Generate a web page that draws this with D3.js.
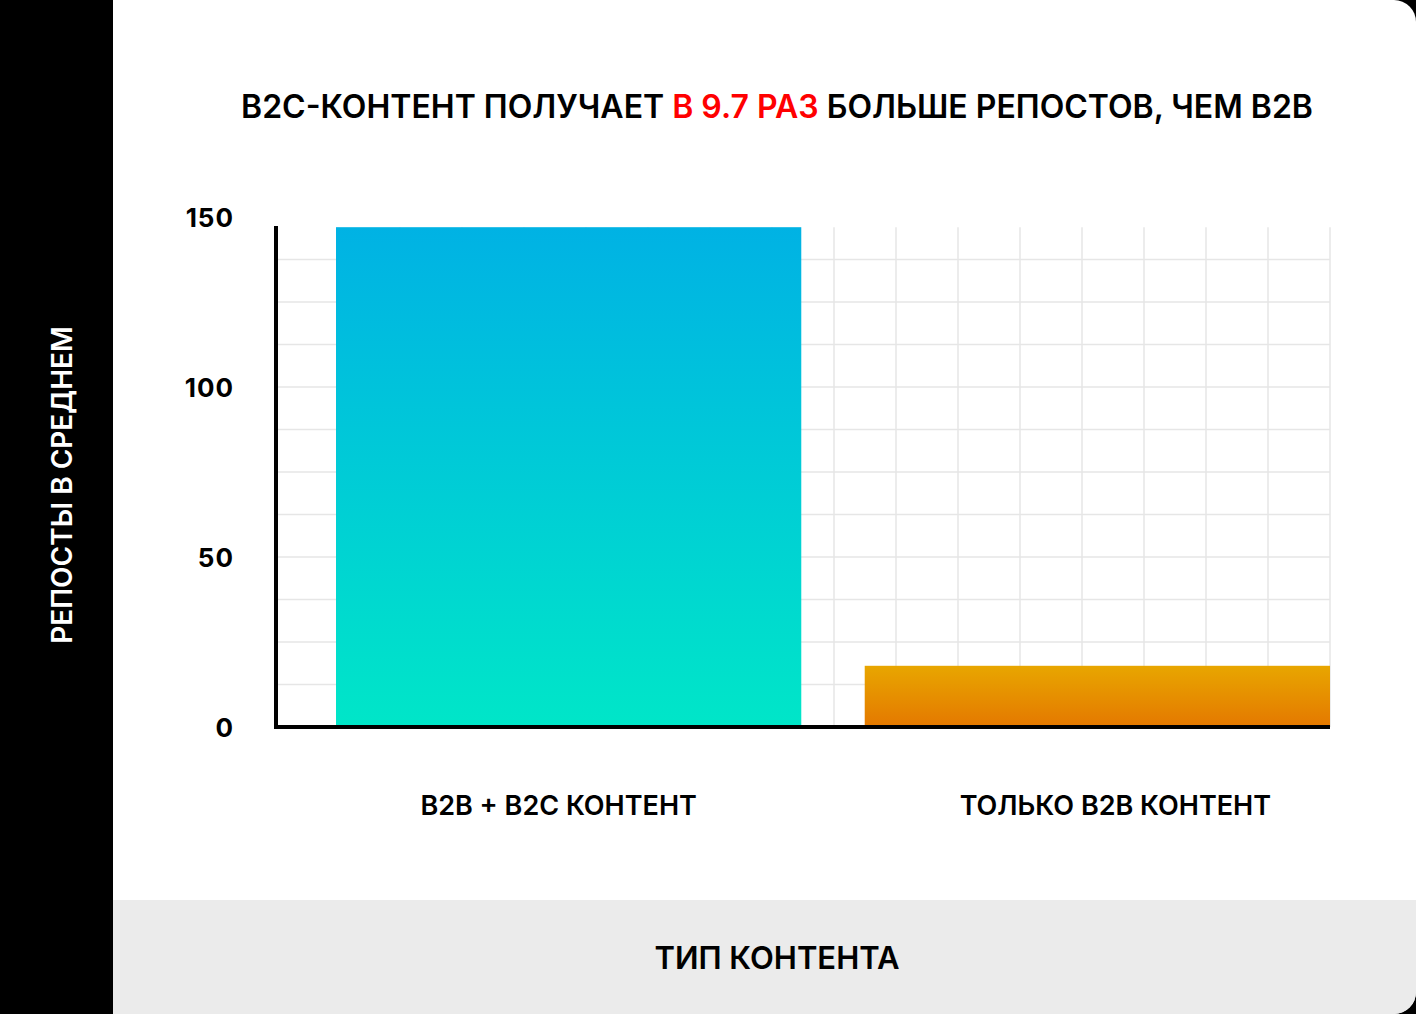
<!DOCTYPE html>
<html><head><meta charset="utf-8">
<script src="https://cdn.jsdelivr.net/npm/d3@7/dist/d3.min.js"></script>
<style>body{margin:0;background:#fff}svg{display:block;font-family:Inter,"Open Sans",sans-serif}</style>
</head><body><svg id="c" width="1416" height="1014"></svg>
<script>
const categories = ["B2B + B2C КОНТЕНТ", "ТОЛЬКО B2B КОНТЕНТ"];
const values = [147, 18];
const yTicks = [0, 50, 100, 150];
const gridStep = 12.5;

const svg = d3.select("#c");
const defs = svg.append("defs");
const g1 = defs.append("linearGradient").attr("id","g1").attr("x1",0).attr("y1",0).attr("x2",0).attr("y2",1);
g1.append("stop").attr("offset",0).attr("stop-color","#00b2e4");
g1.append("stop").attr("offset",1).attr("stop-color","#00e6c8");
const g2 = defs.append("linearGradient").attr("id","g2").attr("x1",0).attr("y1",0).attr("x2",0).attr("y2",1);
g2.append("stop").attr("offset",0).attr("stop-color","#e8a600");
g2.append("stop").attr("offset",1).attr("stop-color","#e47800");

svg.append("rect").attr("x",0).attr("y",0).attr("width",1416).attr("height",1014).attr("fill","#000");
const clip = defs.append("clipPath").attr("id","card");
clip.append("rect").attr("x",-30).attr("y",0).attr("width",1446).attr("height",1014).attr("rx",22);
const card = svg.append("g").attr("clip-path","url(#card)");
card.append("rect").attr("x",113).attr("y",0).attr("width",1303).attr("height",1014).attr("fill","#fff");
card.append("rect").attr("x",113).attr("y",900).attr("width",1303).attr("height",114).attr("fill","#ebebeb");
card.append("rect").attr("x",0).attr("y",0).attr("width",113).attr("height",1014).attr("fill","#000");

const y = d3.scaleLinear().domain([0,150]).range([727,217]);
const x = d3.scaleBand().domain(categories).range([336,1330]).paddingInner(0.12).paddingOuter(0);
const xl = 276, xr = 1330;

// grid
const hg = d3.range(gridStep, 147.1, gridStep);
svg.append("g").selectAll("line").data(hg).join("line")
  .attr("x1",xl).attr("x2",xr).attr("y1",d=>y(d)).attr("y2",d=>y(d))
  .attr("stroke","#e6e6e6").attr("stroke-width",1.5);
svg.append("g").selectAll("line").data(d3.range(1,18)).join("line")
  .attr("x1",d=>xl+d*62).attr("x2",d=>xl+d*62).attr("y1",y(147)).attr("y2",y(0))
  .attr("stroke","#e6e6e6").attr("stroke-width",1.5);

svg.append("g").selectAll("rect").data(values).join("rect")
  .attr("x",(d,i)=>x(categories[i])).attr("width",x.bandwidth())
  .attr("y",d=>y(d)).attr("height",d=>y(0)-y(d))
  .attr("fill",(d,i)=>`url(#g${i+1})`);

// axes
svg.append("line").attr("x1",xl).attr("x2",xl).attr("y1",226).attr("y2",729).attr("stroke","#000").attr("stroke-width",4);
svg.append("line").attr("x1",xl-2).attr("x2",xr).attr("y1",727).attr("y2",727).attr("stroke","#000").attr("stroke-width",4);

svg.append("g").selectAll("text").data(yTicks).join("text")
  .attr("x",234).attr("y",d=>y(d)+3).attr("text-anchor","end").attr("dominant-baseline","middle")
  .attr("font-size",26).attr("font-weight",700).attr("letter-spacing",1).text(d=>d);

svg.append("g").selectAll("text").data(categories).join("text")
  .attr("x",d=>x(d)+x.bandwidth()/2 - (d===categories[0]?10:-18)).attr("y",815).attr("text-anchor","middle")
  .attr("font-size",27).attr("font-weight",600).text(d=>d);

const t = svg.append("text").attr("x",777).attr("y",118).attr("text-anchor","middle")
  .attr("font-size",32).attr("font-weight",600);
t.append("tspan").text("B2C-КОНТЕНТ ПОЛУЧАЕТ ");
t.append("tspan").attr("fill","#ff0000").text("В 9.7 РАЗ");
t.append("tspan").text(" БОЛЬШЕ РЕПОСТОВ, ЧЕМ B2B");

svg.append("text").attr("transform","translate(72,485) rotate(-90)").attr("text-anchor","middle")
  .attr("fill","#fff").attr("font-size",28).attr("font-weight",600).text("РЕПОСТЫ В СРЕДНЕМ");
svg.append("text").attr("x",777).attr("y",969).attr("text-anchor","middle")
  .attr("font-size",31).attr("font-weight",600).text("ТИП КОНТЕНТА");
</script></body></html>
